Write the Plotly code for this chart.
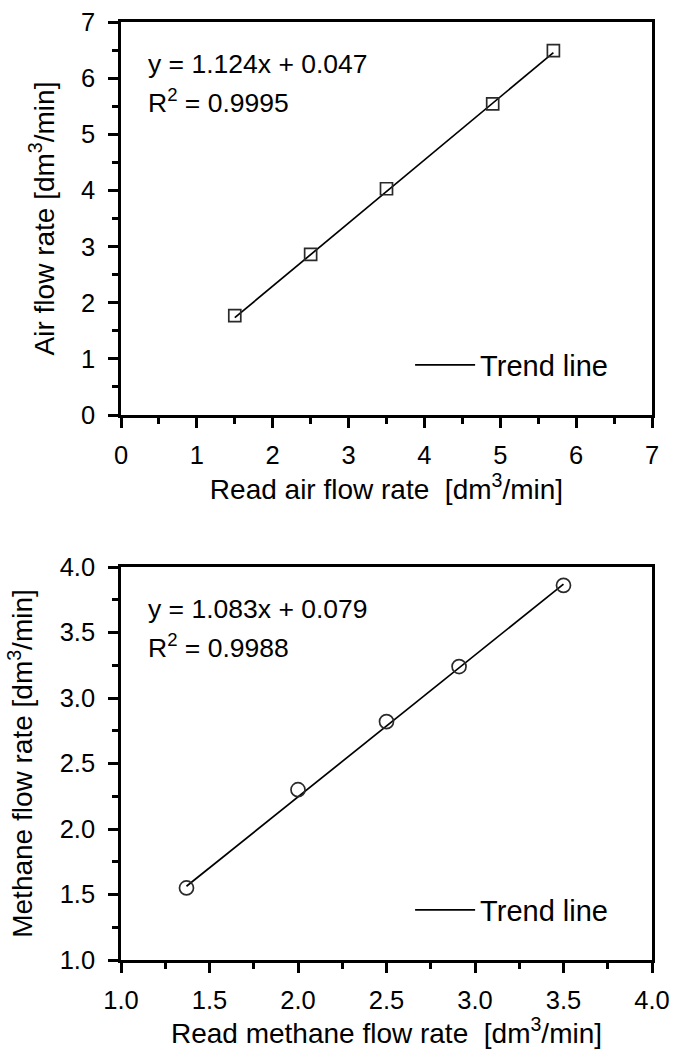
import plotly.graph_objects as go

# ---- data ----
air_read = [1.5, 2.5, 3.5, 4.9, 5.7]
air_actual = [1.77, 2.86, 4.03, 5.54, 6.49]
air_fit = [1.124, 0.047]          # slope, intercept
air_r2 = "0.9995"

methane_read = [1.37, 2.0, 2.5, 2.91, 3.5]
methane_actual = [1.55, 2.30, 2.82, 3.24, 3.86]
methane_fit = [1.083, 0.079]
methane_r2 = "0.9988"

FONT = "Liberation Sans, Arial, sans-serif"
W, H = 673, 1049

fig = go.Figure()

def trend(xs, fit):
    x0, x1 = min(xs), max(xs)
    return [x0, x1], [fit[0] * x0 + fit[1], fit[0] * x1 + fit[1]]

# top panel
tx, ty = trend(air_read, air_fit)
fig.add_trace(go.Scatter(x=tx, y=ty, mode="lines", line=dict(color="black", width=1.7),
                         name="Trend line", xaxis="x", yaxis="y", legend="legend"))
fig.add_trace(go.Scatter(x=air_read, y=air_actual, mode="markers",
                         marker=dict(symbol="square-open", size=12, color="#2a2a2a",
                                     line=dict(width=1.7)),
                         showlegend=False, xaxis="x", yaxis="y"))
# bottom panel
tx, ty = trend(methane_read, methane_fit)
fig.add_trace(go.Scatter(x=tx, y=ty, mode="lines", line=dict(color="black", width=1.7),
                         name="Trend line", xaxis="x2", yaxis="y2", legend="legend2"))
fig.add_trace(go.Scatter(x=methane_read, y=methane_actual, mode="markers",
                         marker=dict(symbol="circle-open", size=14, color="#2a2a2a",
                                     line=dict(width=1.7)),
                         showlegend=False, xaxis="x2", yaxis="y2"))

x_dom = [121 / W, 652 / W]
y_dom_top = [1 - 415 / H, 1 - 22 / H]
y_dom_bot = [1 - 960 / H, 1 - 567 / H]

def ax(rng, dtick, minor, dom, anchor, title, is_y, fmt=None):
    d = dict(range=rng, dtick=dtick, tick0=rng[0], domain=dom, anchor=anchor,
             showline=True, linecolor="black", linewidth=2.6, mirror=True,
             ticks="outside", ticklen=10, tickwidth=2.6, tickcolor="black",
             ticklabelstandoff=8 if is_y else 6,
             showgrid=False, zeroline=False, automargin=False,
             tickfont=dict(family=FONT, size=25.5, color="black"),
             title=dict(text=title, font=dict(family=FONT, size=28, color="black"),
                        standoff=19 if is_y else 6),
             minor=dict(dtick=minor, ticks="outside", ticklen=6, tickwidth=2.6,
                        tickcolor="black", showgrid=False))
    if fmt:
        d["tickformat"] = fmt
    return d

leg_font = dict(family=FONT, size=29, color="black")
fig.update_layout(
    width=W, height=H,
    margin=dict(l=0, r=0, t=0, b=0),
    paper_bgcolor="white", plot_bgcolor="white",
    font=dict(family=FONT, color="black"),
    xaxis=ax([0, 7], 1, 0.5, x_dom, "y", "Read air flow rate  [dm<sup>3</sup>/min]", False),
    yaxis=ax([0, 7], 1, 0.5, y_dom_top, "x", "Air flow rate [dm<sup>3</sup>/min]", True),
    xaxis2=ax([1, 4], 0.5, 0.25, x_dom, "y2", "Read methane flow rate  [dm<sup>3</sup>/min]", False, ".1f"),
    yaxis2=ax([1, 4], 0.5, 0.25, y_dom_bot, "x2", "Methane flow rate [dm<sup>3</sup>/min]", True, ".1f"),
    legend=dict(x=0.911, y=1 - 365 / H, xanchor="right", yanchor="middle",
                bgcolor="rgba(0,0,0,0)", font=leg_font, itemwidth=60),
    legend2=dict(x=0.911, y=1 - 910 / H, xanchor="right", yanchor="middle",
                 bgcolor="rgba(0,0,0,0)", font=leg_font, itemwidth=60),
    showlegend=True,
)

ann_font = dict(family=FONT, size=26.5, color="black")
for xr, yr, fit, r2 in (("x domain", "y domain", air_fit, air_r2),
                        ("x2 domain", "y2 domain", methane_fit, methane_r2)):
    fig.add_annotation(xref=xr, yref=yr, x=0.048, y=0.894, xanchor="left", yanchor="middle",
                       text=f"y = {fit[0]:.3f}x + {fit[1]:.3f}", showarrow=False, font=ann_font)
    fig.add_annotation(xref=xr, yref=yr, x=0.048, y=0.798, xanchor="left", yanchor="middle",
                       text=f"R<sup>2</sup> = {r2}", showarrow=False, font=ann_font)

fig.write_html("out.html")
